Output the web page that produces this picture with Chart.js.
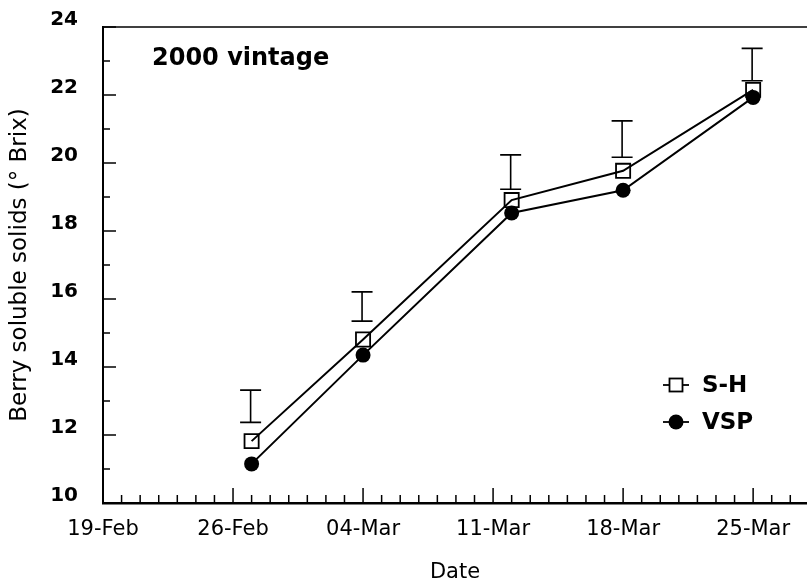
<!DOCTYPE html>
<html>
<head>
<meta charset="utf-8">
<script src="https://cdn.jsdelivr.net/npm/chart.js@4/dist/chart.umd.min.js"></script>
<style>
html,body{margin:0;padding:0;background:#fff;}
canvas{display:block;}
</style>
</head>
<body>
<canvas id="c" width="807" height="586"></canvas>
<script>
// ---- data ----
const xTickDays = [0, 7, 14, 21, 28, 35];           // days since 19-Feb-2000
const xTickLabels = ['19-Feb', '26-Feb', '04-Mar', '11-Mar', '18-Mar', '25-Mar'];
const yTickValues = [10, 12, 14, 16, 18, 20, 22, 24];
const sampleDays = [8, 14, 22, 28, 35];
const shValues = [11.82, 14.81, 18.91, 19.77, 22.15];
const vspValues = [11.15, 14.35, 18.53, 19.20, 21.93];
const shErrTop = [13.32, 16.21, 20.24, 21.24, 23.37];
const shErrBottom = [12.37, 15.35, 19.23, 20.17, 22.42];
const seriesNames = ['S-H', 'VSP'];
const chartTitle = '2000 vintage';

Chart.defaults.font.family = "'DejaVu Sans', sans-serif";
Chart.defaults.color = '#000';

const decor = {
  id: 'decor',
  afterDatasetsDraw(chart) {
    const ctx = chart.ctx;
    const xs = chart.scales.x, ys = chart.scales.y;
    const a = chart.chartArea;
    ctx.save();
    ctx.strokeStyle = '#000';
    // top frame line
    ctx.lineWidth = 1.5;
    ctx.beginPath(); ctx.moveTo(a.left, a.top); ctx.lineTo(a.right, a.top); ctx.stroke();
    // y inward ticks
    ctx.lineWidth = 1.5;
    for (let v = ys.min; v <= ys.max; v += 1) {
      const y = ys.getPixelForValue(v);
      const len = (v % 2 === 0) ? 13 : 7;
      ctx.beginPath(); ctx.moveTo(a.left, y); ctx.lineTo(a.left + len, y); ctx.stroke();
    }
    // x inward ticks
    for (let d = 0; d <= xs.max; d += 1) {
      const x = xs.getPixelForValue(d);
      const len = (d % 7 === 0) ? 15 : 8;
      ctx.beginPath(); ctx.moveTo(x, a.bottom); ctx.lineTo(x, a.bottom - len); ctx.stroke();
    }
    // error bars for S-H
    ctx.lineWidth = 1.6;
    for (let i = 0; i < sampleDays.length; i++) {
      const x = xs.getPixelForValue(sampleDays[i]) - 1;
      const yt = ys.getPixelForValue(shErrTop[i]);
      const yb = ys.getPixelForValue(shErrBottom[i]);
      ctx.beginPath();
      ctx.moveTo(x, yt); ctx.lineTo(x, yb);
      ctx.moveTo(x - 10.5, yt); ctx.lineTo(x + 10.5, yt);
      ctx.moveTo(x - 10.5, yb); ctx.lineTo(x + 10.5, yb);
      ctx.stroke();
    }
    // title
    ctx.fillStyle = '#000';
    ctx.font = "bold 24px 'DejaVu Sans'";
    ctx.textAlign = 'left';
    ctx.textBaseline = 'alphabetic';
    ctx.fillText(chartTitle, 152, 65);
    // legend
    ctx.lineWidth = 1.8;
    ctx.beginPath(); ctx.moveTo(663, 385); ctx.lineTo(689, 385); ctx.stroke();
    ctx.fillStyle = '#fff';
    ctx.fillRect(669.5, 378.5, 13, 13);
    ctx.strokeRect(669.5, 378.5, 13, 13);
    ctx.beginPath(); ctx.moveTo(663, 422); ctx.lineTo(689, 422); ctx.stroke();
    ctx.fillStyle = '#000';
    ctx.beginPath(); ctx.arc(676, 422, 7.5, 0, Math.PI * 2); ctx.fill();
    ctx.font = "bold 23px 'DejaVu Sans'";
    ctx.textBaseline = 'middle';
    ctx.fillText(seriesNames[0], 702, 386);
    ctx.fillText(seriesNames[1], 702, 423);
    ctx.restore();
  }
};

new Chart(document.getElementById('c'), {
  type: 'line',
  data: {
    datasets: [
      {
        label: seriesNames[0],
        data: sampleDays.map((d, i) => ({ x: d, y: shValues[i] })),
        borderColor: '#000', borderWidth: 2,
        pointStyle: 'rect', pointRadius: 10, pointBorderWidth: 1.8,
        pointBackgroundColor: 'rgba(0,0,0,0)', pointBorderColor: '#000',
        tension: 0, fill: false
      },
      {
        label: seriesNames[1],
        data: sampleDays.map((d, i) => ({ x: d, y: vspValues[i] })),
        borderColor: '#000', borderWidth: 2,
        pointStyle: 'circle', pointRadius: 7.5, pointBorderWidth: 0,
        pointBackgroundColor: '#000', pointBorderColor: '#000',
        tension: 0, fill: false
      }
    ]
  },
  options: {
    responsive: false,
    animation: false,
    devicePixelRatio: 1,
    layout: { autoPadding: false, padding: { top: 27, right: 0, left: 0, bottom: 0 } },
    plugins: { legend: { display: false }, tooltip: { enabled: false } },
    scales: {
      x: {
        type: 'linear', min: 0, max: 37.9,
        grid: { display: false, drawTicks: false },
        border: { display: true, color: '#000', width: 2.5 },
        afterBuildTicks: s => { s.ticks = xTickDays.map(v => ({ value: v })); },
        afterFit: s => { s.height = 83; s.paddingRight = 0; s.paddingLeft = 0; },
        ticks: {
          padding: 14,
          font: { size: 21 },
          maxRotation: 0, autoSkip: false,
          callback: (v) => { const i = xTickDays.indexOf(v); return i >= 0 ? xTickLabels[i] : ''; }
        },
        title: { display: true, text: 'Date', font: { size: 21 }, padding: { top: 0, bottom: 1 } }
      },
      y: {
        type: 'linear', min: 10, max: 24,
        grid: { display: false, drawTicks: false },
        border: { display: true, color: '#000', width: 2 },
        afterBuildTicks: s => { s.ticks = yTickValues.map(v => ({ value: v })); },
        afterFit: s => { s.width = 103; s.paddingTop = 0; s.paddingBottom = 0; },
        ticks: {
          padding: 25, labelOffset: -7,
          font: { size: 20, weight: 'bold' },
          callback: v => String(v)
        },
        title: { display: true, text: 'Berry soluble solids (° Brix)', font: { size: 23 }, padding: { top: 6, bottom: 0 } }
      }
    }
  },
  plugins: [decor]
});
</script>
</body>
</html>
